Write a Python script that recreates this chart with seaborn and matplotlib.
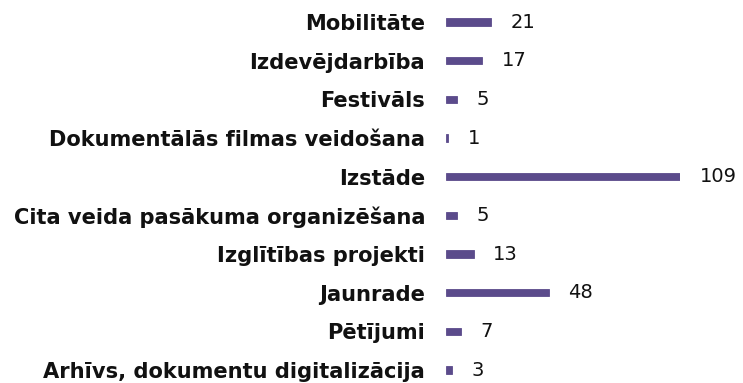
import matplotlib
matplotlib.use("Agg")
import matplotlib.pyplot as plt
import seaborn as sns
import pandas as pd

categories = [
    "Mobilitāte",
    "Izdevējdarbība",
    "Festivāls",
    "Dokumentālās filmas veidošana",
    "Izstāde",
    "Cita veida pasākuma organizēšana",
    "Izglītības projekti",
    "Jaunrade",
    "Pētījumi",
    "Arhīvs, dokumentu digitalizācija",
]
values = [21, 17, 5, 1, 109, 5, 13, 48, 7, 3]

bar_color = "#5b4b8b"

sns.set_theme(style="white")
plt.rcParams["font.family"] = ["DejaVu Sans"]

df = pd.DataFrame({"category": categories, "count": values})

fig = plt.figure(figsize=(7.43, 3.83), dpi=100)
ax = fig.add_axes([446 / 743, 0, 234 / 743, 1])

sns.barplot(data=df, x="count", y="category", orient="h", color=bar_color,
            width=0.19, saturation=1, edgecolor=bar_color, linewidth=0.6,
            ax=ax)

ax.set_xlim(0, 109)
ax.set_ylim(9.336, -0.569)

for i, v in enumerate(values):
    ax.annotate(str(v), xy=(v, i), xytext=(14, 0), textcoords="offset points",
                ha="left", va="center", fontsize=14, color="#111111",
                annotation_clip=False)

ax.set_xlabel("")
ax.set_ylabel("")
ax.set_xticks([])
ax.tick_params(axis="y", length=0, pad=15)
for lbl in ax.get_yticklabels():
    lbl.set_fontweight("bold")
    lbl.set_fontsize(15.1)
    lbl.set_color("#111111")
sns.despine(ax=ax, left=True, bottom=True)

fig.savefig("out.png", dpi=100)
